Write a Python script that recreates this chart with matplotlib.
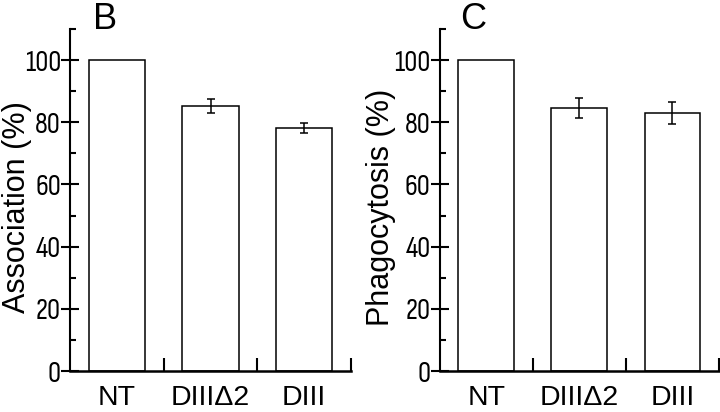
import matplotlib
matplotlib.use("Agg")
import matplotlib.pyplot as plt
import numpy as np
from matplotlib.ticker import FixedLocator, NullFormatter

categories = ["NT", "DIIIΔ2", "DIII"]
assoc_vals = [100, 85.2, 78.2]
assoc_err = [0, 2.2, 1.5]
phago_vals = [100, 84.6, 83.1]
phago_err = [0, 3.2, 3.5]
yticks = [0, 20, 40, 60, 80, 100]

panels = [
    ("B", "Association (%)", assoc_vals, assoc_err, [70 / 720, 41 / 412, 281 / 720, 342 / 412], 93, -0.19),
    ("C", "Phagocytosis (%)", phago_vals, phago_err, [439.7 / 720, 41 / 412, 279.3 / 720, 342 / 412], 460, -0.21),
]

fig = plt.figure(figsize=(7.2, 4.12), dpi=100)
fig.patch.set_facecolor("white")

tick_font = ["Sofia Sans Condensed", "Roboto Condensed", "DejaVu Sans"]
label_font = ["Liberation Sans", "DejaVu Sans"]

for letter, ylabel, vals, errs, rect, letter_x, label_x in panels:
    ax = fig.add_axes(rect)
    x = np.arange(len(categories))
    ax.bar(x, vals, width=0.6, color="white", edgecolor="black", linewidth=1.1, zorder=2)
    ex = [i for i in x if errs[i] > 0]
    ax.errorbar(ex, [vals[i] for i in ex], yerr=[errs[i] for i in ex], fmt="none",
                ecolor="black", elinewidth=1.1, capsize=2.6, capthick=1.1, zorder=3)
    ax.set_xlim(-0.5, 2.5)
    ax.set_ylim(0, 110)
    for s in ["top", "right"]:
        ax.spines[s].set_visible(False)
    ax.spines["left"].set_linewidth(1.5)
    ax.spines["bottom"].set_linewidth(1.8)

    ax.yaxis.set_major_locator(FixedLocator(yticks))
    ax.yaxis.set_minor_locator(FixedLocator([10, 30, 50, 70, 90, 110]))
    ax.tick_params(axis="y", which="major", direction="inout", length=13, width=1.5, pad=0)
    ax.tick_params(axis="y", which="minor", direction="in", length=4.5, width=1.5)
    ax.set_yticklabels([str(t) for t in yticks], fontsize=21, family=tick_font)

    ax.set_xticks(x)
    ax.set_xticklabels(categories, fontsize=20.5, family=label_font)
    ax.xaxis.set_minor_locator(FixedLocator([0.5, 1.5, 2.5]))
    ax.xaxis.set_minor_formatter(NullFormatter())
    ax.tick_params(axis="x", which="major", length=0, pad=10)
    ax.tick_params(axis="x", which="minor", direction="in", length=9.5, width=1.5)

    ax.set_ylabel(ylabel, fontsize=22, family=label_font, va="center")
    ax.yaxis.set_label_coords(label_x, 0.478)

    fig.text(letter_x / 720, (412 - 29) / 412, letter, fontsize=26, family=label_font,
             ha="left", va="baseline")

fig.savefig("out.png", dpi=100, facecolor="white")
